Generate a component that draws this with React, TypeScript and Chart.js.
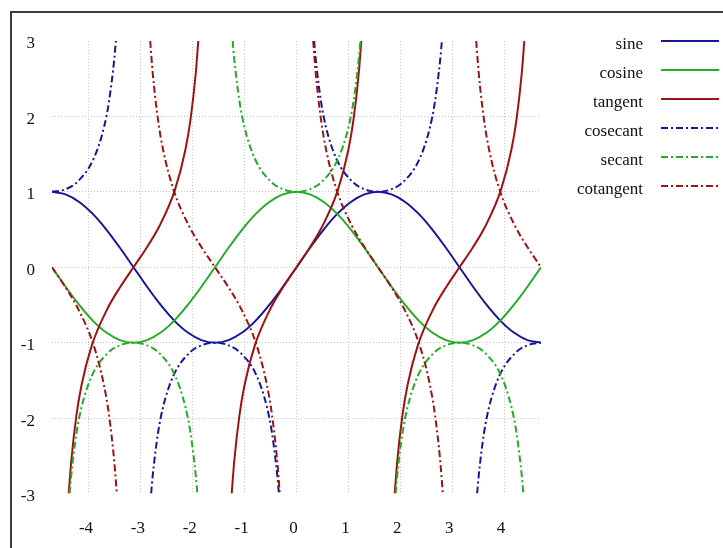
import React, { useEffect, useRef } from "react";
import { Chart, registerables } from "chart.js";

Chart.register(...registerables);

const N = null;

const X_MIN = -4.7124;
const X_MAX = 4.7124;
const X_TICKS = [-4, -3, -2, -1, 0, 1, 2, 3, 4];
const Y_TICKS = [-3, -2, -1, 0, 1, 2, 3];

const LEGEND_LABELS = ["sine", "cosine", "tangent", "cosecant", "secant", "cotangent"];

const SIN_COS_X = [
  -4.7124, -4.4506, -4.1888, -3.927, -3.6652, -3.4034, -3.1416, -2.8798, -2.618, -2.3562,
  -2.0944, -1.8326, -1.5708, -1.309, -1.0472, -0.7854, -0.5236, -0.2618, 0, 0.2618, 0.5236,
  0.7854, 1.0472, 1.309, 1.5708, 1.8326, 2.0944, 2.3562, 2.618, 2.8798, 3.1416, 3.4034,
  3.6652, 3.927, 4.1888, 4.4506, 4.7124,
];
const SINE_Y = [
  1, 0.9659, 0.866, 0.7071, 0.5, 0.2588, 0, -0.2588, -0.5, -0.7071, -0.866, -0.9659, -1,
  -0.9659, -0.866, -0.7071, -0.5, -0.2588, 0, 0.2588, 0.5, 0.7071, 0.866, 0.9659, 1, 0.9659,
  0.866, 0.7071, 0.5, 0.2588, 0, -0.2588, -0.5, -0.7071, -0.866, -0.9659, -1,
];
const COSINE_Y = [
  0, -0.2588, -0.5, -0.7071, -0.866, -0.9659, -1, -0.9659, -0.866, -0.7071, -0.5, -0.2588, 0,
  0.2588, 0.5, 0.7071, 0.866, 0.9659, 1, 0.9659, 0.866, 0.7071, 0.5, 0.2588, 0, -0.2588, -0.5,
  -0.7071, -0.866, -0.9659, -1, -0.9659, -0.866, -0.7071, -0.5, -0.2588, 0,
];

const TAN_X = [
  -4.3906, -4.3416, -4.2416, -4.1416, -3.9416, -3.6416, -3.3916, -3.1416, -2.8916, -2.6416, -2.3416, -2.1416, -2.0416, -1.9416, -1.8926, N,
  -1.249, -1.2, -1.1, -1.0, -0.8, -0.5, -0.25, 0, 0.25, 0.5, 0.8, 1.0, 1.1, 1.2, 1.249, N,
  1.8926, 1.9416, 2.0416, 2.1416, 2.3416, 2.6416, 2.8916, 3.1416, 3.3916, 3.6416, 3.9416, 4.1416, 4.2416, 4.3416, 4.3906,
];
const TAN_Y = [
  -3, -2.5722, -1.9648, -1.5574, -1.0296, -0.5463, -0.2553, 0, 0.2553, 0.5463, 1.0296, 1.5574, 1.9648, 2.5722, 3, N,
  -3, -2.5722, -1.9648, -1.5574, -1.0296, -0.5463, -0.2553, 0, 0.2553, 0.5463, 1.0296, 1.5574, 1.9648, 2.5722, 3, N,
  -3, -2.5722, -1.9648, -1.5574, -1.0296, -0.5463, -0.2553, 0, 0.2553, 0.5463, 1.0296, 1.5574, 1.9648, 2.5722, 3,
];

const CSC_X = [
  -4.7124, -4.4624, -4.2124, -3.9124, -3.7124, -3.6124, -3.5124, -3.4814, N,
  -2.8018, -2.7708, -2.6708, -2.5708, -2.3708, -2.0708, -1.8208, -1.5708, -1.3208, -1.0708, -0.7708, -0.5708, -0.4708, -0.3708, -0.3398, N,
  0.3398, 0.3708, 0.4708, 0.5708, 0.7708, 1.0708, 1.3208, 1.5708, 1.8208, 2.0708, 2.3708, 2.5708, 2.6708, 2.7708, 2.8018, N,
  3.4814, 3.5124, 3.6124, 3.7124, 3.9124, 4.2124, 4.4624, 4.7124,
];
const CSC_Y = [
  1, 1.0321, 1.1395, 1.4353, 1.8508, 2.2046, 2.7597, 3, N,
  -3, -2.7597, -2.2046, -1.8508, -1.4353, -1.1395, -1.0321, -1, -1.0321, -1.1395, -1.4353, -1.8508, -2.2046, -2.7597, -3, N,
  3, 2.7597, 2.2046, 1.8508, 1.4353, 1.1395, 1.0321, 1, 1.0321, 1.1395, 1.4353, 1.8508, 2.2046, 2.7597, 3, N,
  -3, -2.7597, -2.2046, -1.8508, -1.4353, -1.1395, -1.0321, -1,
];

const SEC_X = [
  -4.3726, -4.3416, -4.2416, -4.1416, -3.9416, -3.6416, -3.3916, -3.1416, -2.8916, -2.6416, -2.3416, -2.1416, -2.0416, -1.9416, -1.9106, N,
  -1.231, -1.2, -1.1, -1.0, -0.8, -0.5, -0.25, 0, 0.25, 0.5, 0.8, 1.0, 1.1, 1.2, 1.231, N,
  1.9106, 1.9416, 2.0416, 2.1416, 2.3416, 2.6416, 2.8916, 3.1416, 3.3916, 3.6416, 3.9416, 4.1416, 4.2416, 4.3416, 4.3726,
];
const SEC_Y = [
  -3, -2.7597, -2.2046, -1.8508, -1.4353, -1.1395, -1.0321, -1, -1.0321, -1.1395, -1.4353, -1.8508, -2.2046, -2.7597, -3, N,
  3, 2.7597, 2.2046, 1.8508, 1.4353, 1.1395, 1.0321, 1, 1.0321, 1.1395, 1.4353, 1.8508, 2.2046, 2.7597, 3, N,
  -3, -2.7597, -2.2046, -1.8508, -1.4353, -1.1395, -1.0321, -1, -1.0321, -1.1395, -1.4353, -1.8508, -2.2046, -2.7597, -3,
];

const COT_X = [
  -4.7124, -4.4624, -4.2124, -3.9124, -3.7124, -3.6124, -3.5124, -3.4634, N,
  -2.8198, -2.7708, -2.6708, -2.5708, -2.3708, -2.0708, -1.8208, -1.5708, -1.3208, -1.0708, -0.7708, -0.5708, -0.4708, -0.3708, -0.3218, N,
  0.3218, 0.3708, 0.4708, 0.5708, 0.7708, 1.0708, 1.3208, 1.5708, 1.8208, 2.0708, 2.3708, 2.5708, 2.6708, 2.7708, 2.8198, N,
  3.4634, 3.5124, 3.6124, 3.7124, 3.9124, 4.2124, 4.4624, 4.7124,
];
const COT_Y = [
  0, -0.2553, -0.5463, -1.0296, -1.5574, -1.9648, -2.5722, -3, N,
  3, 2.5722, 1.9648, 1.5574, 1.0296, 0.5463, 0.2553, 0, -0.2553, -0.5463, -1.0296, -1.5574, -1.9648, -2.5722, -3, N,
  3, 2.5722, 1.9648, 1.5574, 1.0296, 0.5463, 0.2553, 0, -0.2553, -0.5463, -1.0296, -1.5574, -1.9648, -2.5722, -3, N,
  3, 2.5722, 1.9648, 1.5574, 1.0296, 0.5463, 0.2553, 0,
];

const BLUE = "#16169a";
const GREEN = "#24ac24";
const RED = "#a01212";
const GRID = "#c4c4c4";
const TEXT = "#111111";
const FONT_FAMILY = "'Liberation Serif', 'Times New Roman', serif";
const DASH_DOT = [7, 3, 2, 3];

const SERIES = [
  { label: LEGEND_LABELS[0], xs: SIN_COS_X, ys: SINE_Y, color: BLUE, dash: [] as number[] },
  { label: LEGEND_LABELS[1], xs: SIN_COS_X, ys: COSINE_Y, color: GREEN, dash: [] as number[] },
  { label: LEGEND_LABELS[2], xs: TAN_X, ys: TAN_Y, color: RED, dash: [] as number[] },
  { label: LEGEND_LABELS[3], xs: CSC_X, ys: CSC_Y, color: BLUE, dash: DASH_DOT },
  { label: LEGEND_LABELS[4], xs: SEC_X, ys: SEC_Y, color: GREEN, dash: DASH_DOT },
  { label: LEGEND_LABELS[5], xs: COT_X, ys: COT_Y, color: RED, dash: DASH_DOT },
];

const framePlugin = {
  id: "frame",
  beforeDraw(chart: any) {
    const ctx = chart.ctx;
    ctx.save();
    ctx.fillStyle = "#ffffff";
    ctx.fillRect(0, 0, chart.width, chart.height);
    ctx.fillStyle = "#3c3c3c";
    ctx.fillRect(10, 11, chart.width - 10, 2);
    ctx.fillRect(10, 11, 2, chart.height - 11);
    ctx.restore();
  },
};

const legendPlugin = {
  id: "rightLegend",
  afterDraw(chart: any) {
    const ctx = chart.ctx;
    ctx.save();
    ctx.font = `17px ${FONT_FAMILY}`;
    ctx.textAlign = "right";
    ctx.textBaseline = "alphabetic";
    SERIES.forEach((s, i) => {
      const y = 41 + i * 29;
      ctx.fillStyle = TEXT;
      ctx.fillText(s.label, 643, y + 8);
      ctx.strokeStyle = s.color;
      ctx.lineWidth = 2;
      ctx.setLineDash(s.dash);
      ctx.beginPath();
      ctx.moveTo(661, y);
      ctx.lineTo(719, y);
      ctx.stroke();
    });
    ctx.restore();
  },
};

export default function App() {
  const canvasRef = useRef<HTMLCanvasElement | null>(null);

  useEffect(() => {
    if (!canvasRef.current) return;
    const font = { family: FONT_FAMILY, size: 17 };
    const chart = new Chart(canvasRef.current, {
      type: "line",
      data: {
        datasets: SERIES.map((s, i) => ({
          label: s.label,
          data: s.xs.map((x, j) => ({ x: x as any, y: s.ys[j] as any })),
          borderColor: s.color,
          backgroundColor: s.color,
          borderWidth: 2,
          borderDash: s.dash,
          pointRadius: 0,
          pointHoverRadius: 0,
          fill: false,
          spanGaps: false,
          cubicInterpolationMode: "monotone" as const,
          order: SERIES.length - 1 - i,
        })),
      },
      options: {
        responsive: false,
        animation: false,
        events: [],
        layout: { padding: { left: 0, right: 182, top: 41, bottom: 0 } },
        plugins: {
          legend: { display: false },
          tooltip: { enabled: false },
        },
        scales: {
          x: {
            type: "linear",
            min: X_MIN,
            max: X_MAX,
            afterBuildTicks: (scale: any) => {
              scale.ticks = X_TICKS.map((v) => ({ value: v }));
            },
            afterFit: (scale: any) => {
              scale.height = 54.5;
            },
            grid: { color: GRID, lineWidth: 1, drawTicks: false },
            border: { display: false, dash: [1, 2] },
            ticks: {
              font,
              color: TEXT,
              padding: 25,
              labelOffset: -3,
              maxRotation: 0,
              autoSkip: false,
            },
          },
          y: {
            type: "linear",
            min: -3,
            max: 3,
            afterBuildTicks: (scale: any) => {
              scale.ticks = Y_TICKS.map((v) => ({ value: v }));
            },
            afterFit: (scale: any) => {
              scale.width = 52;
            },
            grid: {
              color: (c: any) =>
                c.tick && Math.abs(c.tick.value) === 3 ? "rgba(0,0,0,0)" : GRID,
              lineWidth: 1,
              drawTicks: false,
            },
            border: { display: false, dash: [1, 2] },
            ticks: { font, color: TEXT, padding: 17, labelOffset: 3, autoSkip: false },
          },
        },
      },
      plugins: [framePlugin, legendPlugin],
    });
    return () => chart.destroy();
  }, []);

  return (
    <div
      style={{
        position: "absolute",
        left: 0,
        top: 0,
        width: 723,
        height: 548,
        background: "#ffffff",
      }}
    >
      <canvas ref={canvasRef} width={723} height={548} style={{ display: "block" }} />
    </div>
  );
}
